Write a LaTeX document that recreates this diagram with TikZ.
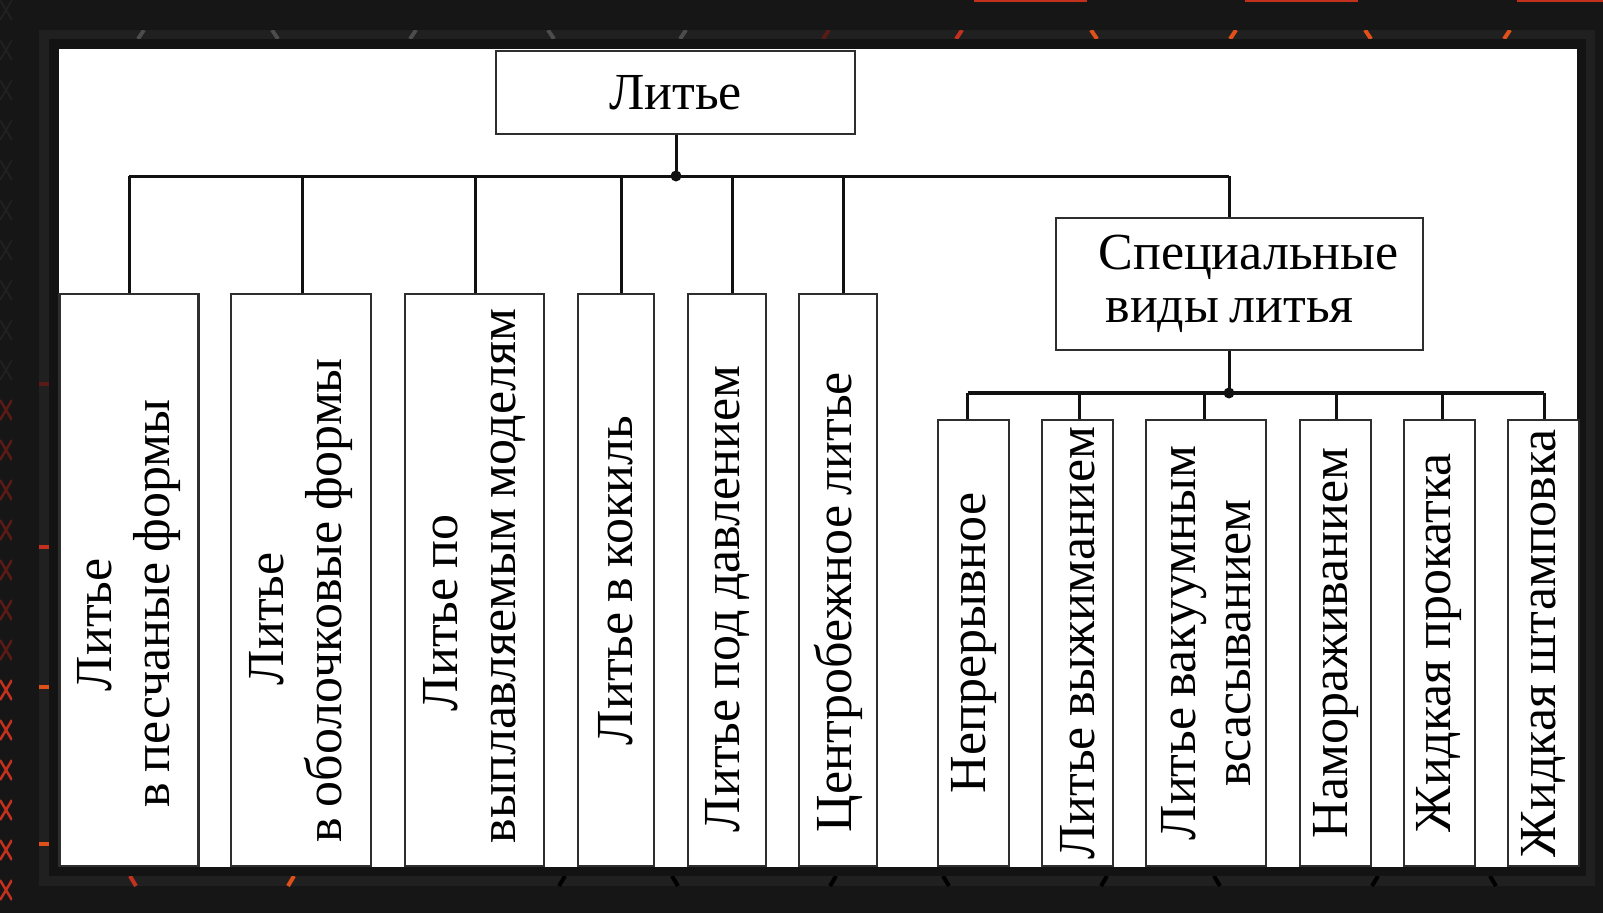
\documentclass[tikz,border=0pt]{standalone}
\usepackage{fontspec}
\setmainfont{Liberation Serif}[WordSpace=0.8]
\newcommand\lnx[1]{\mbox{\spaceskip=0.2em\relax #1}}
\definecolor{bgc}{HTML}{161616}
\definecolor{bandc}{HTML}{202020}
\definecolor{framec}{HTML}{131313}
\definecolor{boxc}{HTML}{2E2E2E}
\definecolor{linec}{HTML}{111111}
\definecolor{redA}{HTML}{C3301E}
\definecolor{redB}{HTML}{E0501A}
\definecolor{redD}{HTML}{5A1A16}
\begin{document}
\begin{tikzpicture}[x=1pt,y=-1pt,
  box/.style={draw=boxc, line width=2.2pt, fill=white, inner sep=0pt, text=black,
    font=\fontsize{52}{62}\selectfont},
  lbox/.style={box, rotate=90, align=left, minimum width=572pt, text width=572pt,
    font=\fontsize{52}{58}\selectfont},
  rbox/.style={box, rotate=90, align=center, minimum width=446pt,
    font=\fontsize{52}{55}\selectfont},
  conn/.style={draw=linec, line width=3pt},
  bus2/.style={draw=linec, line width=3.8pt},
  deco/.style={line width=4pt},
]
\useasboundingbox (0,0) rectangle (1603,913);
% background
\fill[bgc] (0,0) rectangle (1603,913);
\begin{scope}
  \clip (0,0) rectangle (12,913);
  \foreach \y in {0,40,...,360}{
    \draw[line width=2pt, color=bandc] (0,\y) -- (12,\y+20) (0,\y+20) -- (12,\y);}
  \foreach \y in {400,440,...,640}{
    \draw[line width=2.5pt, color=redD] (0,\y) -- (12,\y+20) (0,\y+20) -- (12,\y);}
  \foreach \y in {680,720,...,920}{
    \draw[line width=2.5pt, color=redA] (0,\y) -- (12,\y+20) (0,\y+20) -- (12,\y);}
\end{scope}
\draw[redA, line width=2pt] (974,1) -- (1087,1) (1245,1) -- (1358,1) (1517,1) -- (1603,1);
% band
\fill[bandc] (39,30) rectangle (1595,886);
\begin{scope}
  \clip (39,30) rectangle (1595,886);
  \foreach \x in {141,413,683}{\draw[deco, color=black!70] (\x-3,39) -- (\x+3,30);}
  \foreach \x in {275,551}{\draw[deco, color=black!70] (\x-3,30) -- (\x+3,39);}
  \draw[deco, redD] (823,39) -- (829,30);
  \draw[deco, redA] (956,39) -- (962,30);
  \draw[deco, redB] (1091,30) -- (1097,39);
  \draw[deco, redB] (1230,39) -- (1236,30);
  \draw[deco, redB] (1365,30) -- (1371,39);
  \draw[deco, redB] (1504,39) -- (1510,30);
  \draw[deco, redA] (130,876) -- (136,886);
  \draw[deco, redB] (294,876) -- (288,886);
  \foreach \x in {562,833,1104,1375}{\draw[deco, black] (\x+3,876) -- (\x-3,886);}
  \foreach \x in {675,946,1217,1493}{\draw[deco, black] (\x-3,876) -- (\x+3,886);}
  \draw[deco, redD] (39,384) -- (49,384);
  \draw[deco, redA] (39,547) -- (49,547);
  \draw[deco, redB] (39,687) -- (49,687);
  \draw[deco, redB] (39,844) -- (49,844);
\end{scope}
\fill[framec] (49,39) rectangle (1586,876);
\fill[white] (59,49) rectangle (1577,867);

% top node
\node[box, minimum width=359pt, minimum height=83pt] (lit) at (675.5,92.5) {Литье};
% special node
\node[box, minimum width=367pt, minimum height=132pt, text width=282pt, align=left,
  font=\fontsize{52}{53}\selectfont] (sp) at (1239.5,284)
  {\lnx{Специальные}\\\hspace*{7pt}\lnx{виды литья}};

% left boxes
\node[lbox, minimum height=139pt] (b1) at (129,580)
  {\hspace*{175pt}\lnx{Литье}\\\hspace*{59pt}\lnx{в песчаные формы}};
\node[lbox, minimum height=140pt] (b2) at (301,580)
  {\hspace*{181pt}\lnx{Литье}\\\hspace*{24pt}\lnx{в оболочковые формы}};
\node[lbox, minimum height=139pt] (b3) at (474.5,580)
  {\hspace*{155pt}\lnx{Литье по}\\\hspace*{23pt}\lnx{выплавляемым моделям}};
\node[lbox, minimum height=76pt] (b4) at (616,580)
  {\hspace*{121pt}\lnx{Литье в кокиль}};
\node[lbox, minimum height=78pt] (b5) at (727,580)
  {\hspace*{34pt}\lnx{Литье под давлением}};
\node[lbox, minimum height=78pt] (b6) at (838,580)
  {\hspace*{34pt}\lnx{Центробежное литье}};

% right boxes
\node[rbox, minimum height=71pt] (r1) at (973.5,643) {Непрерывное};
\node[rbox, minimum height=71pt] (r2) at (1077.3,643) {Литье выжиманием};
\node[rbox, minimum height=120pt] (r3) at (1206,643) {Литье вакуумным\\всасыванием};
\node[rbox, minimum height=71pt] (r4) at (1335.5,643) {Намораживанием};
\node[rbox, minimum height=71pt] (r5) at (1439.3,643) {Жидкая прокатка};
\node[rbox, minimum height=71pt] (r6) at (1543.5,643) {Жидкая штамповка};

% connectors, upper level
\coordinate (j1) at (676,176);
\coordinate (d1) at (129,176);
\coordinate (d2) at (302,176);
\coordinate (d3) at (475,176);
\coordinate (d4) at (621,176);
\coordinate (d5) at (732,176);
\coordinate (d6) at (843,176);
\coordinate (ds) at (1229,176);
\draw[conn] (lit.south -| j1) -- (j1);
\draw[conn] (d1) -- (ds);
\draw[conn] (d1) -- (d1 |- b1.east);
\draw[conn] (d2) -- (d2 |- b2.east);
\draw[conn] (d3) -- (d3 |- b3.east);
\draw[conn] (d4) -- (d4 |- b4.east);
\draw[conn] (d5) -- (d5 |- b5.east);
\draw[conn] (d6) -- (d6 |- b6.east);
\draw[conn] (ds) -- (ds |- sp.north);
\fill[linec] (j1) circle (5.5pt);

% connectors, lower level
\coordinate (j2) at (1229,393);
\coordinate (e1) at (967.5,393);
\coordinate (e2) at (1079,393);
\coordinate (e3) at (1204.5,393);
\coordinate (e4) at (1336,393);
\coordinate (e5) at (1442,393);
\coordinate (e6) at (1544,393);
\draw[conn] (sp.south -| j2) -- (j2);
\draw[bus2] (e1) -- (e6);
\draw[conn] (e1) -- (e1 |- r1.east);
\draw[conn] (e2) -- (e2 |- r2.east);
\draw[conn] (e3) -- (e3 |- r3.east);
\draw[conn] (e4) -- (e4 |- r4.east);
\draw[conn] (e5) -- (e5 |- r5.east);
\draw[conn] (e6) -- (e6 |- r6.east);
\fill[linec] (j2) circle (5.5pt);
\end{tikzpicture}
\end{document}
